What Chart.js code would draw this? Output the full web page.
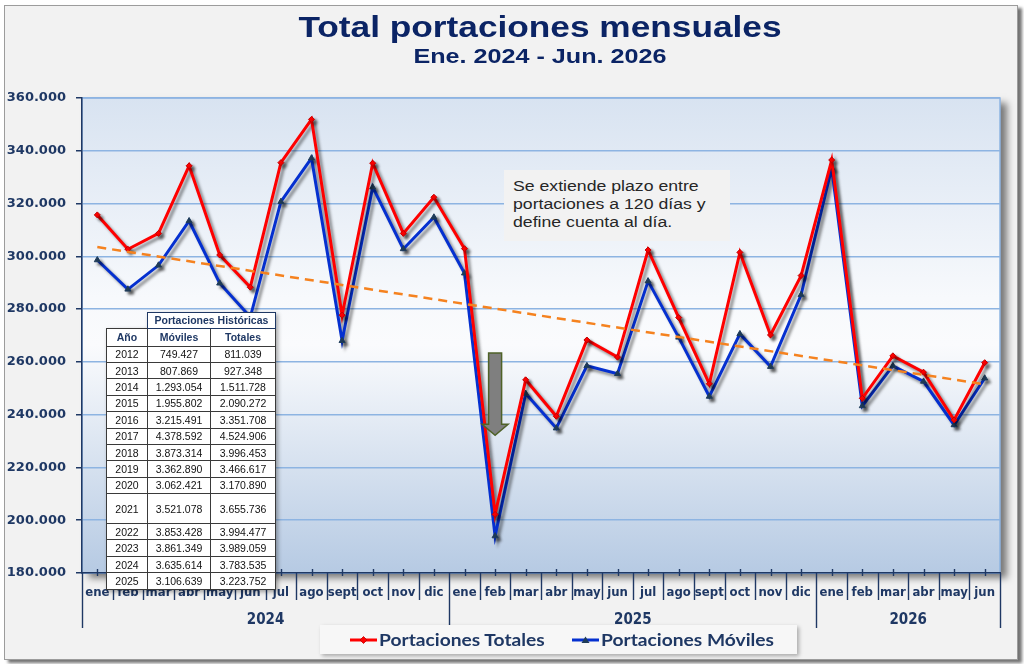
<!DOCTYPE html>
<html><head><meta charset="utf-8">
<script src="https://cdn.jsdelivr.net/npm/chart.js@4.4.1/dist/chart.umd.min.js"></script>
<style>
html,body{margin:0;padding:0;background:#fff;width:1024px;height:664px;overflow:hidden;}
#frame{position:absolute;left:4px;top:5px;width:1012px;height:653px;background:#f2f2f2;border:1px solid #9c9c9c;box-shadow:4px 3px 3px rgba(0,0,0,0.55);}
#c{position:absolute;left:0;top:0;}
.ttl{position:absolute;left:0;width:1080px;text-align:center;color:#0b2465;font-family:"Liberation Sans",Arial,sans-serif;font-weight:bold;white-space:nowrap;transform-origin:540px 0;}
#title{top:12px;font-size:30px;line-height:30px;transform:scaleX(1.175);}
#subtitle{top:46px;font-size:19.5px;line-height:20px;transform:scaleX(1.29);}
#note{position:absolute;left:504px;top:170px;width:226px;height:71px;background:#f2f2f2;}
#note div{position:absolute;left:9px;top:6.5px;font:15.5px/18.3px "Liberation Sans",Arial,sans-serif;color:#262626;white-space:nowrap;transform:scaleX(1.14);transform-origin:0 0;}
#tbl{position:absolute;left:106px;top:312px;border-collapse:collapse;font-family:"Liberation Sans",Arial,sans-serif;filter:drop-shadow(2px 2px 2px rgba(0,0,0,0.35));}
#tbl td,#tbl th{border:1px solid #3a3a3a;background:#fff;padding:0;text-align:center;font-size:10.5px;color:#111;height:15.4px;}
#tbl th{font-weight:bold;color:#1f3864;}
#tbl th.blank{border:none;background:transparent;}
#tbl th.grp{height:14.6px;border-color:#1f3864;}
#tbl tr.hdr th{height:16.7px;}
#tbl tr.tall td{height:29px;}
#legend{position:absolute;left:320px;top:625px;width:477px;height:29px;background:#f7f7f7;box-shadow:2px 2px 4px rgba(0,0,0,0.3);font:bold 17px Lato,"Open Sans",sans-serif;color:#1f3864;}
.li{position:absolute;top:0;height:29px;line-height:29px;white-space:nowrap;}
.li svg{position:absolute;top:9px;left:0;}
.li span{position:absolute;left:29px;top:0;transform:scaleX(1.13);transform-origin:0 0;}
</style></head>
<body>
<div id="frame"></div>
<canvas id="c" width="1024" height="664"></canvas>
<div class="ttl" id="title">Total portaciones mensuales</div>
<div class="ttl" id="subtitle">Ene. 2024 - Jun. 2026</div>
<div id="note"><div>Se extiende plazo entre<br>portaciones a 120 días y<br>define cuenta al día.</div></div>
<table id="tbl"><thead>
<tr><th class="blank"></th><th colspan="2" class="grp">Portaciones Históricas</th></tr>
<tr class="hdr"><th style="width:40px">Año</th><th style="width:62px">Móviles</th><th style="width:64px">Totales</th></tr>
</thead><tbody id="tb"></tbody></table>
<div id="legend">
 <div class="li" style="left:30px"><svg width="28" height="12"><line x1="0" y1="6" x2="27" y2="6" stroke="#ff0000" stroke-width="3"/><polygon points="13.5,2.5 17,6 13.5,9.5 10,6" fill="#ff0000" stroke="#c00000" stroke-width="0.8"/></svg><span>Portaciones Totales</span></div>
 <div class="li" style="left:252px"><svg width="28" height="12"><line x1="0" y1="6" x2="27" y2="6" stroke="#0530d0" stroke-width="3"/><polygon points="13.5,2.5 17.5,9 9.5,9" fill="#1f3c5a"/></svg><span>Portaciones Móviles</span></div>
</div>
<script>
// ---- data ----
const months = ['ene','feb','mar','abr','may','jun','jul','ago','sept','oct','nov','dic',
                'ene','feb','mar','abr','may','jun','jul','ago','sept','oct','nov','dic',
                'ene','feb','mar','abr','may','jun'];
const years = ['2024','2025','2026'];
const yearMonthCounts = [12,12,6];
const totales = [315700,302700,308700,334300,300500,288300,335500,351900,277700,335300,308700,322400,
                 302900,202200,253200,239400,268300,261800,302400,276800,251700,301500,270200,292700,
                 336500,246200,262300,256100,238000,259700];
const moviles = [298600,287500,296600,313400,289800,277000,320700,337200,268000,326200,302800,314800,
                 293600,194000,248000,234900,258500,255500,290600,269300,246900,270600,258200,285400,
                 333400,243300,258500,252600,236100,253800];
const trendEnds = [303500,251500];
const yTicks = [180000,200000,220000,240000,260000,280000,300000,320000,340000,360000];
const arrowIndex = 13;
const arrowRange = [263400,232200];
const tableYears = ['2012','2013','2014','2015','2016','2017','2018','2019','2020','2021','2022','2023','2024','2025'];
const tableMoviles = ['749.427','807.869','1.293.054','1.955.802','3.215.491','4.378.592','3.873.314','3.362.890','3.062.421','3.521.078','3.853.428','3.861.349','3.635.614','3.106.639'];
const tableTotales = ['811.039','927.348','1.511.728','2.090.272','3.351.708','4.524.906','3.996.453','3.466.617','3.170.890','3.655.736','3.994.477','3.989.059','3.783.535','3.223.752'];

// table
const tb = document.getElementById('tb');
tableYears.forEach((yr,i)=>{
  const tr = document.createElement('tr');
  if (yr==='2021') tr.className='tall';
  [yr, tableMoviles[i], tableTotales[i]].forEach(v=>{const td=document.createElement('td');td.textContent=v;tr.appendChild(td);});
  tb.appendChild(tr);
});

const trend = months.map((_,i)=> i===0 ? trendEnds[0] : (i===months.length-1 ? trendEnds[1] : null));
const NAVY = '#1f3864';
const fmt = v => String(v).replace(/\B(?=(\d{3})+(?!\d))/g,'.');
const condensed = '"Liberation Sans Narrow","DejaVu Sans Condensed","Roboto Condensed",Roboto,sans-serif';

const bgPlugin = {
  id:'bg',
  beforeDraw(chart){
    const {ctx, chartArea:a} = chart;
    ctx.save();
    ctx.shadowColor='rgba(0,0,0,0.5)'; ctx.shadowOffsetX=7; ctx.shadowOffsetY=5; ctx.shadowBlur=7;
    const g = ctx.createLinearGradient(0,a.top,0,a.bottom);
    g.addColorStop(0,'#d8e3f1'); g.addColorStop(0.42,'#f7f9fc'); g.addColorStop(0.52,'#fafbfd'); g.addColorStop(1,'#b6cae3');
    ctx.fillStyle=g; ctx.fillRect(a.left,a.top,a.right-a.left,a.bottom-a.top);
    ctx.restore();
    ctx.save(); ctx.strokeStyle='#8db4e2'; ctx.lineWidth=1.5;
    ctx.strokeRect(a.left,a.top,a.right-a.left,a.bottom-a.top); ctx.restore();
  }
};
const shadowPlugin = {
  id:'shadow',
  beforeDatasetDraw(chart,args){
    if (chart.data.datasets[args.index].dropShadow){
      const c=chart.ctx; c.save(); c.shadowColor='rgba(0,0,0,0.45)'; c.shadowOffsetX=3; c.shadowOffsetY=3; c.shadowBlur=3;
    }
  },
  afterDatasetDraw(chart,args){ if (chart.data.datasets[args.index].dropShadow) chart.ctx.restore(); }
};
const arrowPlugin = {
  id:'arrow',
  afterDatasetsDraw(chart){
    const {ctx, scales:{x,y}} = chart;
    const cx = x.getPixelForValue(arrowIndex);
    const top = y.getPixelForValue(arrowRange[0]);
    const tip = y.getPixelForValue(arrowRange[1]);
    const headH = 11, sw = 6.5, hw = 13;
    ctx.save();
    ctx.beginPath();
    ctx.moveTo(cx-sw,top); ctx.lineTo(cx+sw,top); ctx.lineTo(cx+sw,tip-headH); ctx.lineTo(cx+hw,tip-headH);
    ctx.lineTo(cx,tip); ctx.lineTo(cx-hw,tip-headH); ctx.lineTo(cx-sw,tip-headH); ctx.closePath();
    ctx.fillStyle='#7f7f7f'; ctx.fill(); ctx.strokeStyle='#4f6228'; ctx.lineWidth=1.5; ctx.stroke();
    ctx.restore();
  }
};
const axisPlugin = {
  id:'axisDeco',
  afterDraw(chart){
    const {ctx, scales:{x}, chartArea:a} = chart;
    const n = months.length;
    const step = x.getPixelForValue(1)-x.getPixelForValue(0);
    const base = a.bottom;
    const yearBounds = [0]; yearMonthCounts.reduce((s,c)=>{yearBounds.push(s+c); return s+c;},0);
    ctx.save(); ctx.strokeStyle=NAVY; ctx.lineWidth=1.4;
    for (let i=0;i<=n;i++){
      const bx = Math.round(x.getPixelForValue(i)-step/2)+0.5;
      const isYear = yearBounds.includes(i);
      ctx.beginPath(); ctx.moveTo(bx,base); ctx.lineTo(bx,isYear?628:600); ctx.stroke();
    }
    for (let i=0;i<n;i++){
      const cx = Math.round(x.getPixelForValue(i))+0.5;
      ctx.beginPath(); ctx.moveTo(cx,base-4); ctx.lineTo(cx,base+3); ctx.stroke();
    }
    ctx.fillStyle=NAVY; ctx.font='bold 15px '+condensed; ctx.textAlign='center'; ctx.textBaseline='middle';
    years.forEach((yr,k)=>{
      const l = x.getPixelForValue(yearBounds[k])-step/2, r = x.getPixelForValue(yearBounds[k+1]-1)+step/2;
      ctx.fillText(yr,(l+r)/2,620);
    });
    ctx.restore();
  }
};

new Chart(document.getElementById('c'),{
  type:'line',
  data:{labels:months,datasets:[
    {label:'Tendencia',data:trend,spanGaps:true,borderColor:'#f5821f',borderWidth:2.5,borderDash:[9,6],pointRadius:0,fill:false},
    {label:'Portaciones Totales',data:totales,borderColor:'#ff0000',borderWidth:3,pointStyle:'rectRot',pointRadius:3,
     pointBackgroundColor:'#ff0000',pointBorderColor:'#c00000',pointBorderWidth:1,tension:0,dropShadow:true},
    {label:'Portaciones Móviles',data:moviles,borderColor:'#0530d0',borderWidth:3,pointStyle:'triangle',pointRadius:3.5,
     pointBackgroundColor:'#1f3c5a',pointBorderColor:'#1f3c5a',pointBorderWidth:1,tension:0,dropShadow:true}
  ]},
  options:{
    responsive:false,animation:false,devicePixelRatio:1,
    layout:{padding:{left:0,right:24,top:98,bottom:36}},
    plugins:{legend:{display:false},tooltip:{enabled:false}},
    scales:{
      x:{type:'category',offset:true,
         grid:{display:false,drawTicks:false},
         border:{display:true,color:NAVY,width:1.5},
         ticks:{autoSkip:false,maxRotation:0,minRotation:0,padding:12,color:NAVY,font:{family:condensed,size:13,weight:'bold'}},
         afterFit(s){s.height=55;}},
      y:{min:180000,max:360000,
         afterBuildTicks(s){s.ticks=yTicks.map(v=>({value:v}));},
         grid:{color:'#8db4e2',lineWidth:1.5,tickColor:NAVY,tickLength:6,drawTicks:true},
         border:{display:true,color:NAVY,width:1.5},
         ticks:{padding:10,color:NAVY,font:{family:'"DejaVu Sans",Verdana,sans-serif',size:13,weight:'bold'},callback:v=>fmt(v)},
         afterFit(s){s.width=82;}}
    }
  },
  plugins:[bgPlugin,shadowPlugin,arrowPlugin,axisPlugin]
});
</script>
</body></html>
